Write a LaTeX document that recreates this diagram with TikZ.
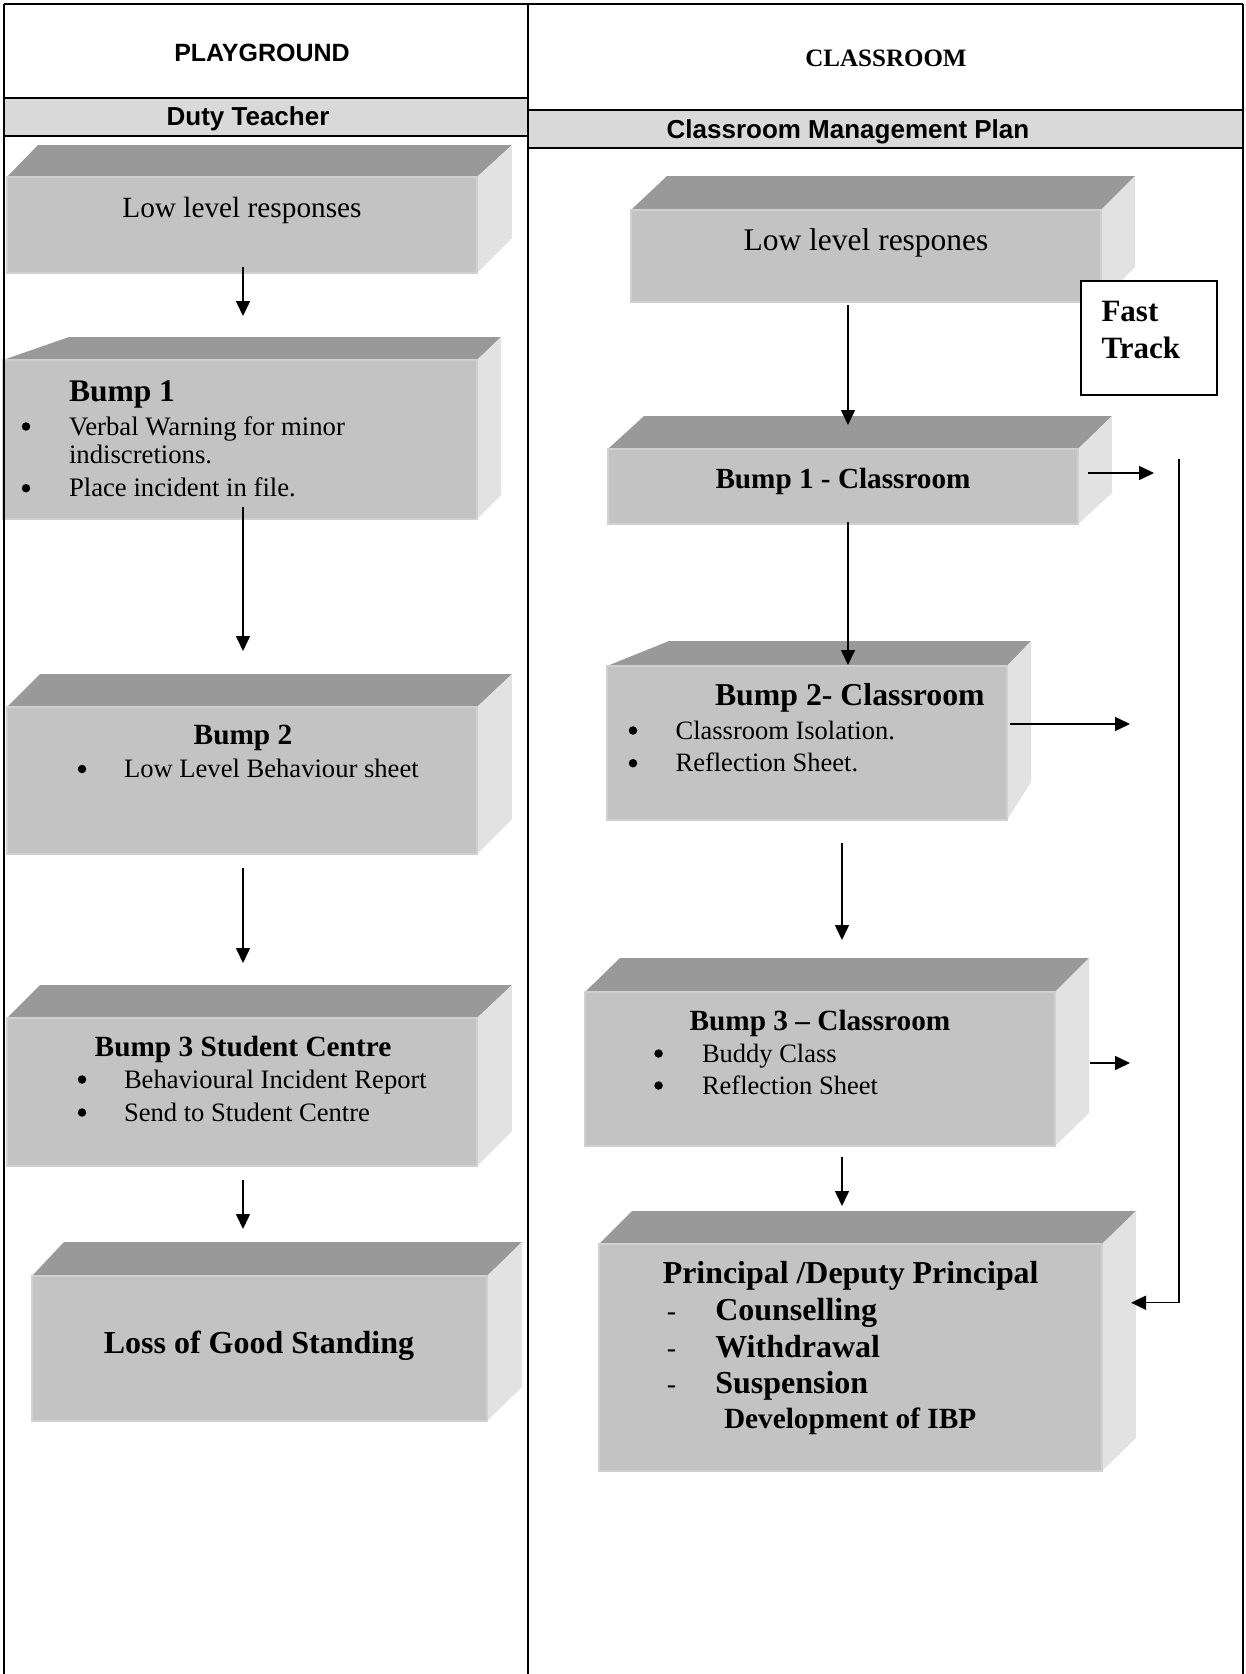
\documentclass[tikz,border=0pt]{standalone}
\usepackage{fontspec}
\usepackage{graphicx}
\setmainfont{Liberation Serif}
\newfontfamily\arialf{Liberation Sans}
\usetikzlibrary{arrows.meta}
\definecolor{topc}{HTML}{999999}
\definecolor{sidec}{HTML}{E2E2E2}
\definecolor{frontc}{HTML}{C3C3C3}
\definecolor{edgec}{HTML}{D0D0D0}
\definecolor{bandc}{HTML}{D9D9D9}
\newcommand\fsz[1]{\fontsize{#1pt}{#1pt}\selectfont}
% #1 name, #2 x1, #3 y1, #4 x2, #5 y2, #6 back top y, #7 back-left x, #8 back-right x, #9 side bottom y
\newcommand\threedbox[9]{%
  \fill[topc] (#2,#3) -- (#7,#6) -- (#8,#6) -- (#4,#3) -- cycle;
  \fill[sidec] (#4,#3) -- (#8,#6) -- (#8,#9) -- (#4,#5) -- cycle;
  \node[frontface, minimum width={#4-#2}, minimum height={#5-#3}] (#1) at ({(#2+#4)/2},{(#3+#5)/2}) {};
}
\tikzset{
  frontface/.style={rectangle, fill=frontc, draw=edgec, line width=1.5pt, inner sep=0pt, outer sep=0pt},
  txt/.style={inner sep=0pt, outer sep=0pt},
  bul/.style={circle, fill=black, inner sep=0pt, outer sep=0pt, minimum size=8.5pt},
  frame/.style={line width=2.2pt, black},
  conn/.style={line width=1.5pt, -{Triangle[length=15pt,width=14pt]}},
  ftbox/.style={rectangle, draw=black, fill=white, line width=1.6pt, inner sep=0pt, outer sep=0pt}
}
\begin{document}
\begin{tikzpicture}[x=1pt,y=-1pt]
\useasboundingbox (0,0) rectangle (1246,1674);
\fill[white] (0,0) rectangle (1246,1674);

% header bands
\fill[bandc] (4,97.7) rectangle (528,136);
\fill[bandc] (528,110) rectangle (1243,147.7);

\node[txt, anchor=base, font=\arialf\bfseries\fsz{25}] (hpg) at (262,61.5) {PLAYGROUND};
\node[txt, anchor=base, font=\bfseries\fsz{25}] (hcl) at (886,66.5) {CLASSROOM};
\node[txt, anchor=base, font=\arialf\bfseries\fsz{26}] (hdt) at (248,125.5) {Duty Teacher};
\node[txt, anchor=base, font=\arialf\bfseries\fsz{26}] (hcm) at (848,138) {Classroom Management Plan};

% ---------- left column boxes ----------
\threedbox{L1}{7}{177}{477}{273}{145}{38}{512}{238}
\threedbox{L2}{3}{360}{477}{519}{337}{69}{501}{495}
\threedbox{L3}{7}{707}{477}{854}{674}{40}{512}{819}
\threedbox{L4}{7}{1018}{477}{1166}{985}{40}{512}{1131}
\threedbox{L5}{32}{1276}{487}{1421}{1242}{64}{522}{1387}

% ---------- right column boxes ----------
\threedbox{R1}{631}{210}{1101}{302}{176}{667}{1135}{267}
\threedbox{R2}{608}{449}{1078}{524}{416}{644}{1112}{493}
\threedbox{R3}{607}{666}{1007}{820}{641}{669}{1031}{782}
\threedbox{R4}{585}{992}{1055}{1146}{958}{620}{1089}{1113}
\threedbox{R5}{599}{1244}{1102}{1471}{1211}{632}{1136}{1438}

% Fast Track box
\node[ftbox, minimum width=136pt, minimum height=114.3pt] (ft) at (1148.7,337.85) {};
\node[txt, anchor=base west, font=\bfseries\fsz{31}] (ft1) at (1101.5,321) {Fast};
\node[txt, anchor=base west, font=\bfseries\fsz{31}] (ft2) at (1101.5,358) {Track};

% ---------- left texts ----------
\node[txt, anchor=base, font=\fsz{29.3}] (l1t) at (242,217) {Low level responses};

\node[txt, anchor=base west, font=\bfseries\fsz{31.5}] (l2t) at (69,401.7) {Bump 1};
\node[bul] (l2b1) at (26,426.5) {};
\node[txt, anchor=base west, font=\fsz{26.7}] (l2i1) at (69,435) {Verbal Warning for minor};
\node[txt, anchor=base west, font=\fsz{26.7}] (l2i1b) at (69,463.3) {indiscretions.};
\node[bul] (l2b2) at (26,488.2) {};
\node[txt, anchor=base west, font=\fsz{26.7}] (l2i2) at (69,496.7) {Place incident in file.};

\node[txt, anchor=base, font=\bfseries\fsz{29.3}] (l3t) at (243,744) {Bump 2};
\node[bul] (l3b1) at (82,769) {};
\node[txt, anchor=base west, font=\fsz{26.6}] (l3i1) at (124,777.5) {Low Level Behaviour sheet};

\node[txt, anchor=base, font=\bfseries\fsz{29.3}] (l4t) at (243,1056) {Bump 3 Student Centre};
\node[bul] (l4b1) at (82,1079.5) {};
\node[txt, anchor=base west, font=\fsz{26.6}] (l4i1) at (124,1088) {Behavioural Incident Report};
\node[bul] (l4b2) at (82,1112.5) {};
\node[txt, anchor=base west, font=\fsz{26.6}] (l4i2) at (124,1121) {Send to Student Centre};

\node[txt, anchor=base, font=\bfseries\fsz{32}] (l5t) at (259,1353) {Loss of Good Standing};

% ---------- right texts ----------
\node[txt, anchor=base, font=\fsz{31.5}] (r1t) at (866,250) {Low level respones};

\node[txt, anchor=base, font=\bfseries\fsz{29.2}] (r2t) at (843,488) {Bump 1 - Classroom};

\node[txt, anchor=base west, font=\bfseries\fsz{31.8}] (r3t) at (715,705.7) {Bump 2- Classroom};
\node[bul] (r3b1) at (633,730.5) {};
\node[txt, anchor=base west, font=\fsz{26.5}] (r3i1) at (675.6,739) {Classroom Isolation.};
\node[bul] (r3b2) at (633,763.2) {};
\node[txt, anchor=base west, font=\fsz{26.5}] (r3i2) at (675.6,771.7) {Reflection Sheet.};

\node[txt, anchor=base, font=\bfseries\fsz{29.3}] (r4t) at (820,1030) {Bump 3 -- Classroom};
\node[bul] (r4b1) at (658.6,1053.5) {};
\node[txt, anchor=base west, font=\fsz{26.5}] (r4i1) at (702,1062) {Buddy Class};
\node[bul] (r4b2) at (658.6,1085.5) {};
\node[txt, anchor=base west, font=\fsz{26.5}] (r4i2) at (702,1094) {Reflection Sheet};

\node[txt, anchor=base west, font=\bfseries\fsz{31.9}] (r5t) at (662.8,1283) {Principal /Deputy Principal};
\node[txt, anchor=base, font=\fsz{28}] (r5d1) at (671.6,1320) {-};
\node[txt, anchor=base west, font=\bfseries\fsz{32}] (r5i1) at (715.3,1320) {Counselling};
\node[txt, anchor=base, font=\fsz{28}] (r5d2) at (671.6,1357) {-};
\node[txt, anchor=base west, font=\bfseries\fsz{32}] (r5i2) at (715.3,1357) {Withdrawal};
\node[txt, anchor=base, font=\fsz{28}] (r5d3) at (671.6,1393) {-};
\node[txt, anchor=base west, font=\bfseries\fsz{32}] (r5i3) at (715.3,1393) {Suspension};
\node[txt, anchor=base west, font=\bfseries\fsz{29.3}] (r5i4) at (724,1428) {Development of IBP};

% ---------- connector end points ----------
\coordinate (a1s) at (243,267);  \coordinate (a1e) at (243,316);
\coordinate (a2s) at (243,507);  \coordinate (a2e) at (243,651);
\coordinate (a3s) at (243,868);  \coordinate (a3e) at (243,963);
\coordinate (a4s) at (243,1180); \coordinate (a4e) at (243,1229);
\coordinate (b1s) at (848,305);  \coordinate (b1e) at (848,425);
\coordinate (b2s) at (848,522);  \coordinate (b2e) at (848,665);
\coordinate (b3s) at (842,843);  \coordinate (b3e) at (842,940);
\coordinate (b4s) at (842,1157); \coordinate (b4e) at (842,1206);
\coordinate (s1s) at (1088,473);  \coordinate (s1e) at (1154,473);
\coordinate (s2s) at (1010,724);  \coordinate (s2e) at (1130,724);
\coordinate (s3s) at (1090,1063); \coordinate (s3e) at (1130,1063);
\coordinate (fts) at (1179,459);  \coordinate (ftc) at (1179,1302.7); \coordinate (fte) at (1131,1302.7);

\draw[conn] (a1s) -- (a1e);
\draw[conn] (a2s) -- (a2e);
\draw[conn] (a3s) -- (a3e);
\draw[conn] (a4s) -- (a4e);
\draw[conn] (b1s) -- (b1e);
\draw[conn] (b2s) -- (b2e);
\draw[conn] (b3s) -- (b3e);
\draw[conn] (b4s) -- (b4e);
\draw[conn] (s1s) -- (s1e);
\draw[conn] (s2s) -- (s2e);
\draw[conn] (s3s) -- (s3e);
\draw[conn] (fts) -- (ftc) -- (fte);

% ---------- frame ----------
\draw[frame] (4,4) -- (1243,4);
\draw[frame] (4,4) -- (4,1674);
\draw[frame] (528,4) -- (528,1674);
\draw[frame] (1243,4) -- (1243,1674);
\draw[frame] (4,97.7) -- (528,97.7);
\draw[frame] (4,136) -- (528,136);
\draw[frame] (528,110) -- (1243,110);
\draw[frame] (528,147.7) -- (1243,147.7);
\end{tikzpicture}
\end{document}
